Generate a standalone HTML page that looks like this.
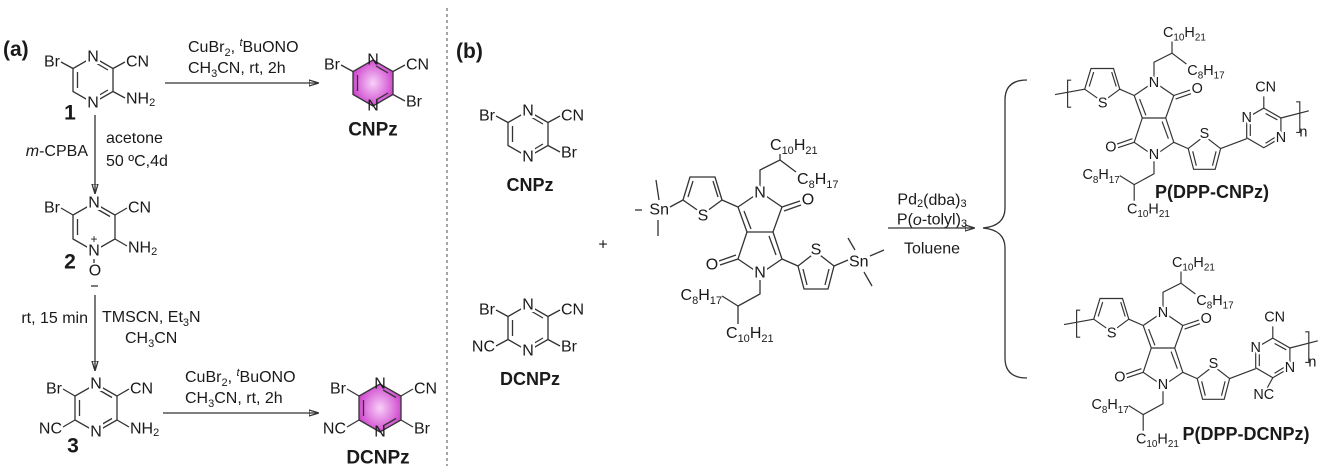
<!DOCTYPE html>
<html><head><meta charset="utf-8"><style>
html,body{margin:0;padding:0;background:#fff}
svg{display:block}
text{font-family:"Liberation Sans",Arial,sans-serif;font-size:16px;fill:#1a1a1a}
.m{text-anchor:middle;dominant-baseline:central}
.c{dominant-baseline:central}
.e{text-anchor:end;dominant-baseline:central}
.w{stroke:#fff;stroke-width:5px;paint-order:stroke}
.b{font-weight:bold}
line,polyline,polygon,path{stroke:#333;stroke-width:1.3;fill:none}
</style></head><body>
<svg width="1334" height="470" viewBox="0 0 1334 470" xmlns="http://www.w3.org/2000/svg">
<defs>
<radialGradient id="g" cx="50%" cy="50%" r="55%"><stop offset="0" stop-color="#f8d0f8"/><stop offset="1" stop-color="#cc3fcc"/></radialGradient>
<marker id="ah" markerWidth="10" markerHeight="8" refX="9" refY="4" orient="auto" markerUnits="userSpaceOnUse"><path d="M0,1 L10,4 L0,7 Z" fill="#222" stroke="none"/></marker>
</defs>

<text x="3" y="56" class="b" style="font-size:21px">(a)</text>

<g transform="translate(93,80)">
<polygon points="0,-23 20,-11.5 20,11.5 0,23 -20,11.5 -20,-11.5"/>
<line x1="-15.5" y1="-8" x2="-15.5" y2="8"/><line x1="3" y1="-17" x2="15" y2="-10"/><line x1="15" y1="10" x2="3" y2="17"/>
<line x1="-20" y1="-11.5" x2="-32" y2="-18"/><line x1="20" y1="-11.5" x2="32" y2="-18"/><line x1="20" y1="11.5" x2="32" y2="18"/>
<text x="0" y="-23" class="m w">N</text><text x="0" y="23" class="m w">N</text>
<text x="-33" y="-18" class="e">Br</text><text x="33" y="-18" class="c">CN</text>
<text x="33" y="19" class="c">NH<tspan dy="4" font-size="11">2</tspan></text>
<text x="-23" y="33" class="m b" style="font-size:21px">1</text>
</g>
<line x1="165" y1="83" x2="318" y2="83" marker-end="url(#ah)"/>
<text x="188" y="52">CuBr<tspan dy="4" font-size="11">2</tspan><tspan dy="-4">, </tspan><tspan dy="-6" font-size="11" font-style="italic">t</tspan><tspan dy="6">BuONO</tspan></text>
<text x="188" y="73">CH<tspan dy="4" font-size="11">3</tspan><tspan dy="-4">CN, rt, 2h</tspan></text>

<g transform="translate(373,83)">
<polygon points="0,-23 20,-11.5 20,11.5 0,23 -20,11.5 -20,-11.5" style="fill:url(#g)"/>
<line x1="-15.5" y1="-8" x2="-15.5" y2="8"/><line x1="3" y1="-17" x2="15" y2="-10"/><line x1="15" y1="10" x2="3" y2="17"/>
<line x1="-20" y1="-11.5" x2="-32" y2="-18"/><line x1="20" y1="-11.5" x2="32" y2="-18"/><line x1="20" y1="11.5" x2="32" y2="18"/>
<text x="0" y="-23" class="m">N</text><text x="0" y="23" class="m">N</text>
<text x="-33" y="-18" class="e">Br</text><text x="33" y="-18" class="c">CN</text><text x="33" y="19" class="c">Br</text>
<text x="0" y="47" class="m b" style="font-size:19px">CNPz</text>
</g>

<line x1="95" y1="115" x2="95" y2="193" marker-end="url(#ah)"/>
<text x="88" y="156" style="text-anchor:end"><tspan font-style="italic">m</tspan>-CPBA</text>
<text x="106" y="143">acetone</text>
<text x="106" y="166">50 ºC,4d</text>

<g transform="translate(94,227)">
<polygon points="0,-24 21,-12 21,12 0,24 -21,12 -21,-12"/>
<line x1="-16.5" y1="-8" x2="-16.5" y2="8"/><line x1="3" y1="-18" x2="16" y2="-10.5"/>
<line x1="-21" y1="-12" x2="-33" y2="-19"/><line x1="21" y1="-12" x2="33" y2="-19"/><line x1="21" y1="12" x2="33" y2="19"/>
<text x="0" y="-24" class="m w">N</text><text x="0" y="24" class="m w">N</text>
<text x="0" y="12" class="m" style="font-size:12px">+</text>
<line x1="0" y1="32" x2="0" y2="36"/>
<text x="1" y="44" class="m">O</text>
<line x1="-3" y1="59" x2="4" y2="59"/>
<text x="-34" y="-19" class="e">Br</text><text x="34" y="-19" class="c">CN</text>
<text x="34" y="21" class="c">NH<tspan dy="4" font-size="11">2</tspan></text>
<text x="-24" y="35" class="m b" style="font-size:21px">2</text>
</g>

<line x1="95" y1="295" x2="95" y2="370" marker-end="url(#ah)"/>
<text x="88" y="323" style="text-anchor:end">rt, 15 min</text>
<text x="102" y="322">TMSCN, Et<tspan dy="4" font-size="11">3</tspan><tspan dy="-4">N</tspan></text>
<text x="125" y="343">CH<tspan dy="4" font-size="11">3</tspan><tspan dy="-4">CN</tspan></text>

<g transform="translate(96,408)">
<polygon points="0,-24 21,-12 21,12 0,24 -21,12 -21,-12"/>
<line x1="-16.5" y1="-8" x2="-16.5" y2="8"/><line x1="3" y1="-18" x2="16" y2="-10.5"/><line x1="16" y1="10.5" x2="3" y2="18"/>
<line x1="-21" y1="-12" x2="-33" y2="-19"/><line x1="21" y1="-12" x2="33" y2="-19"/><line x1="21" y1="12" x2="33" y2="19"/><line x1="-21" y1="12" x2="-33" y2="19"/>
<text x="0" y="-24" class="m w">N</text><text x="0" y="24" class="m w">N</text>
<text x="-34" y="-19" class="e">Br</text><text x="34" y="-19" class="c">CN</text>
<text x="34" y="21" class="c">NH<tspan dy="4" font-size="11">2</tspan></text>
<text x="-34" y="21" class="e">NC</text>
<text x="-23" y="38" class="m b" style="font-size:21px">3</text>
</g>
<line x1="163" y1="413" x2="318" y2="413" marker-end="url(#ah)"/>
<text x="185" y="382">CuBr<tspan dy="4" font-size="11">2</tspan><tspan dy="-4">, </tspan><tspan dy="-6" font-size="11" font-style="italic">t</tspan><tspan dy="6">BuONO</tspan></text>
<text x="185" y="403">CH<tspan dy="4" font-size="11">3</tspan><tspan dy="-4">CN, rt, 2h</tspan></text>

<g transform="translate(380,408)">
<polygon points="0,-24 21,-12 21,12 0,24 -21,12 -21,-12" style="fill:url(#g)"/>
<line x1="-16.5" y1="-8" x2="-16.5" y2="8"/><line x1="3" y1="-18" x2="16" y2="-10.5"/><line x1="16" y1="10.5" x2="3" y2="18"/>
<line x1="-21" y1="-12" x2="-33" y2="-19"/><line x1="21" y1="-12" x2="33" y2="-19"/><line x1="21" y1="12" x2="33" y2="19"/><line x1="-21" y1="12" x2="-33" y2="19"/>
<text x="0" y="-24" class="m">N</text><text x="0" y="24" class="m">N</text>
<text x="-34" y="-19" class="e">Br</text><text x="34" y="-19" class="c">CN</text>
<text x="34" y="21" class="c">Br</text><text x="-34" y="21" class="e">NC</text>
<text x="-2" y="50" class="m b" style="font-size:19px">DCNPz</text>
</g>

<line x1="447" y1="8" x2="447" y2="466" style="stroke:#888;stroke-dasharray:3,3;stroke-width:1.5"/>

<text x="456" y="58" class="b" style="font-size:21px">(b)</text>
<g transform="translate(528,134)">
<polygon points="0,-23 20,-11.5 20,11.5 0,23 -20,11.5 -20,-11.5"/>
<line x1="-15.5" y1="-8" x2="-15.5" y2="8"/><line x1="3" y1="-17" x2="15" y2="-10"/><line x1="15" y1="10" x2="3" y2="17"/>
<line x1="-20" y1="-11.5" x2="-32" y2="-18"/><line x1="20" y1="-11.5" x2="32" y2="-18"/><line x1="20" y1="11.5" x2="32" y2="18"/>
<text x="0" y="-23" class="m w">N</text><text x="0" y="23" class="m w">N</text>
<text x="-33" y="-18" class="e">Br</text><text x="33" y="-18" class="c">CN</text><text x="33" y="19" class="c">Br</text>
<text x="2" y="51" class="m b" style="font-size:18px">CNPz</text>
</g>
<g transform="translate(528,328)">
<polygon points="0,-23 20,-11.5 20,11.5 0,23 -20,11.5 -20,-11.5"/>
<line x1="-15.5" y1="-8" x2="-15.5" y2="8"/><line x1="3" y1="-17" x2="15" y2="-10"/><line x1="15" y1="10" x2="3" y2="17"/>
<line x1="-20" y1="-11.5" x2="-32" y2="-18"/><line x1="20" y1="-11.5" x2="32" y2="-18"/><line x1="20" y1="11.5" x2="32" y2="18"/><line x1="-20" y1="11.5" x2="-32" y2="18"/>
<text x="0" y="-23" class="m w">N</text><text x="0" y="23" class="m w">N</text>
<text x="-33" y="-18" class="e">Br</text><text x="33" y="-18" class="c">CN</text><text x="33" y="19" class="c">Br</text><text x="-33" y="19" class="e">NC</text>
<text x="2" y="51" class="m b" style="font-size:18px">DCNPz</text>
</g>
<text x="603" y="245" class="m">+</text>

<!-- DPP monomer -->
<g transform="translate(760,192)">
<polyline points="-22,15 0,0 22,15 13,40 -13,40 -22,15"/>
<polyline points="-13,40 -22,67 0,82 22,67 13,40"/>
<line x1="-16" y1="19" x2="-9" y2="37"/><line x1="9" y1="44" x2="16" y2="63"/>
<line x1="22" y1="15" x2="40" y2="9"/><line x1="24" y1="19" x2="41" y2="13"/>
<line x1="-22" y1="67" x2="-40" y2="73"/><line x1="-24" y1="63" x2="-41" y2="69"/>
<text x="48" y="8" class="m">O</text><text x="-48" y="73" class="m">O</text>
<polyline points="0,0 0,-22 20,-32 20,-38"/><line x1="20" y1="-32" x2="36" y2="-20"/>
<text x="0" y="1" class="m w">N</text><text x="0" y="81" class="m w">N</text>
<text x="10" y="-42">C<tspan dy="4" font-size="11">10</tspan><tspan dy="-4">H</tspan><tspan dy="4" font-size="11">21</tspan></text>
<text x="37" y="-8">C<tspan dy="4" font-size="11">8</tspan><tspan dy="-4">H</tspan><tspan dy="4" font-size="11">17</tspan></text>
<polyline points="0,88 0,102 -22,114 -22,132"/><line x1="-22" y1="114" x2="-38" y2="104"/>
<text x="-38" y="108" style="text-anchor:end">C<tspan dy="4" font-size="11">8</tspan><tspan dy="-4">H</tspan><tspan dy="4" font-size="11">17</tspan></text>
<text x="-34" y="146">C<tspan dy="4" font-size="11">10</tspan><tspan dy="-4">H</tspan><tspan dy="4" font-size="11">21</tspan></text>
<line x1="-22" y1="15" x2="-38" y2="8"/>
<polygon points="-38,8 -45,-15 -70,-15 -77,8 -57,22"/>
<line x1="-42" y1="5" x2="-47" y2="-11"/><line x1="-67" y1="-11" x2="-72" y2="5"/>
<text x="-57" y="24" class="m w">S</text>
<line x1="-77" y1="8" x2="-90" y2="15"/>
<text x="-91" y="18" class="e">Sn</text>
<line x1="-101" y1="8" x2="-104" y2="-12"/><line x1="-102" y1="28" x2="-102" y2="44"/><line x1="-125" y1="18" x2="-118" y2="18"/>
<line x1="22" y1="67" x2="38" y2="74"/>
<polygon points="38,74 56,60 74,74 68,97 44,97"/>
<line x1="43" y1="77" x2="47" y2="93"/><line x1="69" y1="77" x2="65" y2="93"/>
<text x="56" y="58" class="m w">S</text>
<line x1="74" y1="74" x2="88" y2="68"/>
<text x="89" y="70" class="c">Sn</text>
<line x1="95" y1="58" x2="88" y2="46"/><line x1="104" y1="80" x2="112" y2="94"/><line x1="110" y1="64" x2="124" y2="58"/>
</g>

<text x="932" y="200" class="m">Pd<tspan dy="4" font-size="11">2</tspan><tspan dy="-4">(dba)</tspan><tspan dy="4" font-size="11">3</tspan></text>
<text x="932" y="220" class="m">P(<tspan font-style="italic">o</tspan>-tolyl)<tspan dy="4" font-size="11">3</tspan></text>
<line x1="888" y1="228" x2="974" y2="228" marker-end="url(#ah)"/>
<text x="932" y="249" class="m">Toluene</text>

<path d="M1027,80 Q1005,80 1005,100 L1005,208 Q1005,226 983,228 Q1005,230 1005,248 L1005,358 Q1005,378 1027,378"/>

<g transform="translate(1154,82) scale(0.9)">
<polyline points="-22,15 0,0 22,15 13,40 -13,40 -22,15"/>
<polyline points="-13,40 -22,67 0,82 22,67 13,40"/>
<line x1="-16" y1="19" x2="-9" y2="37"/><line x1="9" y1="44" x2="16" y2="63"/>
<line x1="22" y1="15" x2="40" y2="9"/><line x1="24" y1="19" x2="41" y2="13"/>
<line x1="-22" y1="67" x2="-40" y2="73"/><line x1="-24" y1="63" x2="-41" y2="69"/>
<text x="48" y="8" class="m">O</text><text x="-48" y="73" class="m">O</text>
<polyline points="0,0 0,-22 20,-32 20,-45"/><line x1="20" y1="-32" x2="36" y2="-20"/>
<text x="0" y="1" class="m w">N</text><text x="0" y="81" class="m w">N</text>
<text x="10" y="-50">C<tspan dy="4" font-size="11">10</tspan><tspan dy="-4">H</tspan><tspan dy="4" font-size="11">21</tspan></text>
<text x="37" y="-8">C<tspan dy="4" font-size="11">8</tspan><tspan dy="-4">H</tspan><tspan dy="4" font-size="11">17</tspan></text>
<polyline points="0,88 0,102 -22,114 -22,132"/><line x1="-22" y1="114" x2="-38" y2="104"/>
<text x="-38" y="108" style="text-anchor:end">C<tspan dy="4" font-size="11">8</tspan><tspan dy="-4">H</tspan><tspan dy="4" font-size="11">17</tspan></text>
<text x="-30" y="146">C<tspan dy="4" font-size="11">10</tspan><tspan dy="-4">H</tspan><tspan dy="4" font-size="11">21</tspan></text>
<line x1="-22" y1="15" x2="-38" y2="8"/>
<polygon points="-38,8 -45,-15 -70,-15 -77,8 -57,22"/>
<line x1="-42" y1="5" x2="-47" y2="-11"/><line x1="-67" y1="-11" x2="-72" y2="5"/>
<text x="-57" y="24" class="m w">S</text>
<line x1="-77" y1="8" x2="-110" y2="14"/>
<polyline points="-92,-2 -96,-2 -96,28 -92,28"/>
<line x1="22" y1="67" x2="38" y2="74"/>
<polygon points="38,74 56,60 74,74 68,97 44,97"/>
<line x1="43" y1="77" x2="47" y2="93"/><line x1="69" y1="77" x2="65" y2="93"/>
<text x="56" y="58" class="m w">S</text>
<line x1="74" y1="74" x2="103" y2="63"/>
<g transform="translate(0,12)">
<polygon points="122,17 141,28 141,50 122,61 103,50 103,28"/>
<line x1="107" y1="32" x2="107" y2="48"/><line x1="124" y1="23" x2="137" y2="30"/><line x1="137" y1="48" x2="124" y2="56"/>
<text x="103" y="28" class="m w">N</text><text x="141" y="50" class="m w">N</text>
<line x1="122" y1="17" x2="122" y2="4"/><text x="124" y="-6" class="m">CN</text>
<line x1="141" y1="28" x2="172" y2="20"/>
<polyline points="158,10 162,10 162,44 158,44"/>
<text x="166" y="44" class="m">n</text>
</g>
</g>
<text x="1212" y="192" class="m b" style="font-size:18px">P(DPP-CNPz)</text>

<g transform="translate(1163,312) scale(0.9)">
<polyline points="-22,15 0,0 22,15 13,40 -13,40 -22,15"/>
<polyline points="-13,40 -22,67 0,82 22,67 13,40"/>
<line x1="-16" y1="19" x2="-9" y2="37"/><line x1="9" y1="44" x2="16" y2="63"/>
<line x1="22" y1="15" x2="40" y2="9"/><line x1="24" y1="19" x2="41" y2="13"/>
<line x1="-22" y1="67" x2="-40" y2="73"/><line x1="-24" y1="63" x2="-41" y2="69"/>
<text x="48" y="8" class="m">O</text><text x="-48" y="73" class="m">O</text>
<polyline points="0,0 0,-22 20,-32 20,-45"/><line x1="20" y1="-32" x2="36" y2="-20"/>
<text x="0" y="1" class="m w">N</text><text x="0" y="81" class="m w">N</text>
<text x="10" y="-50">C<tspan dy="4" font-size="11">10</tspan><tspan dy="-4">H</tspan><tspan dy="4" font-size="11">21</tspan></text>
<text x="37" y="-8">C<tspan dy="4" font-size="11">8</tspan><tspan dy="-4">H</tspan><tspan dy="4" font-size="11">17</tspan></text>
<polyline points="0,88 0,102 -22,114 -22,132"/><line x1="-22" y1="114" x2="-38" y2="104"/>
<text x="-38" y="108" style="text-anchor:end">C<tspan dy="4" font-size="11">8</tspan><tspan dy="-4">H</tspan><tspan dy="4" font-size="11">17</tspan></text>
<text x="-30" y="146">C<tspan dy="4" font-size="11">10</tspan><tspan dy="-4">H</tspan><tspan dy="4" font-size="11">21</tspan></text>
<line x1="-22" y1="15" x2="-38" y2="8"/>
<polygon points="-38,8 -45,-15 -70,-15 -77,8 -57,22"/>
<line x1="-42" y1="5" x2="-47" y2="-11"/><line x1="-67" y1="-11" x2="-72" y2="5"/>
<text x="-57" y="24" class="m w">S</text>
<line x1="-77" y1="8" x2="-110" y2="14"/>
<polyline points="-92,-2 -96,-2 -96,28 -92,28"/>
<line x1="22" y1="67" x2="38" y2="74"/>
<polygon points="38,74 56,60 74,74 68,97 44,97"/>
<line x1="43" y1="77" x2="47" y2="93"/><line x1="69" y1="77" x2="65" y2="93"/>
<text x="56" y="58" class="m w">S</text>
<line x1="74" y1="74" x2="103" y2="63"/>
<g transform="translate(0,12)">
<polygon points="122,17 141,28 141,50 122,61 103,50 103,28"/>
<line x1="107" y1="32" x2="107" y2="48"/><line x1="124" y1="23" x2="137" y2="30"/><line x1="137" y1="48" x2="124" y2="56"/>
<text x="103" y="28" class="m w">N</text><text x="141" y="50" class="m w">N</text>
<line x1="122" y1="17" x2="122" y2="4"/><text x="124" y="-6" class="m">CN</text>
<line x1="122" y1="61" x2="116" y2="72"/><text x="112" y="80" class="m">NC</text>
<line x1="141" y1="28" x2="172" y2="20"/>
<polyline points="158,10 162,10 162,44 158,44"/>
<text x="166" y="44" class="m">n</text>
</g>
</g>
<text x="1246" y="434" class="m b" style="font-size:18px">P(DPP-DCNPz)</text>
</svg>
</body></html>
